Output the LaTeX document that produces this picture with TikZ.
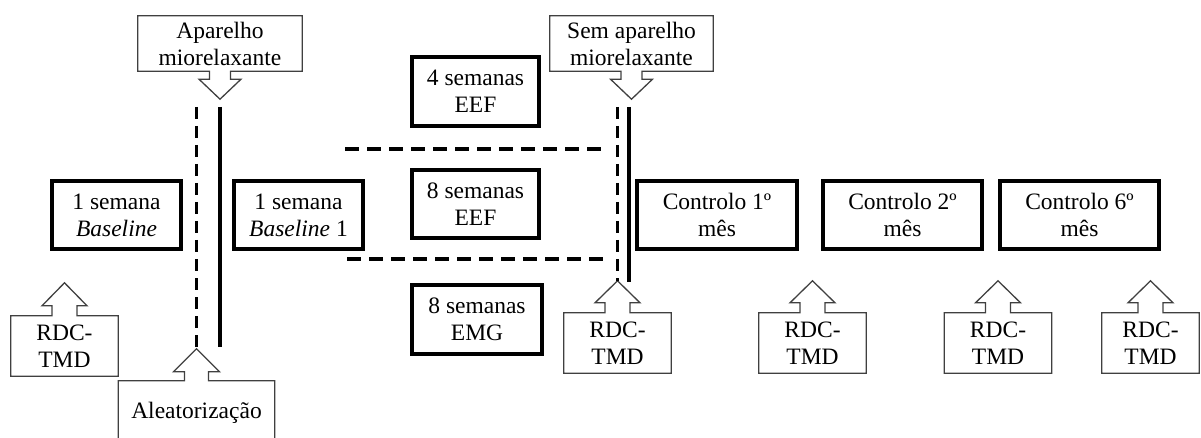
\documentclass[tikz,border=0pt]{standalone}
\usepackage{fontspec}
\setmainfont{Liberation Serif}
\usetikzlibrary{calc}
\tikzset{
  every node/.style={font=\fontsize{23.5}{27}\selectfont, align=center, inner sep=0pt},
  stagebox/.style={draw, line width=3.2pt, minimum height=68pt},
  calltext/.style={draw=none, minimum width=107pt, minimum height=60pt},
  callout/.style={draw=black!75, line width=1.3pt, line join=miter},
  solidsep/.style={line width=3.2pt},
  vdash/.style={line width=3.2pt, dash pattern=on 12pt off 7pt},
  hdash/.style={line width=3.2pt, dash pattern=on 14pt off 8pt},
}
% down-pointing callout: node, stem half, shoulder half, stem length, head length
\newcommand\callDown[5]{%
  \draw[callout] ($(#1.south)+(#2,0)$) -- (#1.south east) -- (#1.north east) -- (#1.north west)
    -- (#1.south west) -- ($(#1.south)+(-#2,0)$) -- ($(#1.south)+(-#2,#4)$)
    -- ($(#1.south)+(-#3,#4)$) -- ($(#1.south)+(0,{#4+#5})$) coordinate (#1-tip)
    -- ($(#1.south)+(#3,#4)$) -- ($(#1.south)+(#2,#4)$) -- cycle;}
% up-pointing callout
\newcommand\callUp[5]{%
  \draw[callout] ($(#1.north)+(#2,0)$) -- (#1.north east) -- (#1.south east) -- (#1.south west)
    -- (#1.north west) -- ($(#1.north)+(-#2,0)$) -- ($(#1.north)+(-#2,-#4)$)
    -- ($(#1.north)+(-#3,-#4)$) -- ($(#1.north)+(0,{-#4-#5})$) coordinate (#1-tip)
    -- ($(#1.north)+(#3,-#4)$) -- ($(#1.north)+(#2,-#4)$) -- cycle;}
\begin{document}
\begin{tikzpicture}[x=1pt,y=-1pt]
\useasboundingbox (0,0) rectangle (1201,438);

% stage boxes
\node[stagebox, minimum width=129pt] (b0) at (116.5,215) {1 semana\\\textit{Baseline}};
\node[stagebox, minimum width=129pt] (b1) at (298.5,215) {1 semana\\\textit{Baseline} 1};
\node[stagebox, minimum width=127pt, minimum height=69pt] (e4) at (475.5,91.5) {4 semanas\\EEF};
\node[stagebox, minimum width=127pt] (e8) at (475.5,204) {8 semanas\\EEF};
\node[stagebox, minimum width=130pt, minimum height=69pt] (m8) at (477,319.5) {8 semanas\\EMG};
\node[stagebox, minimum width=160pt] (c1) at (717,215) {Controlo 1º\\mês};
\node[stagebox, minimum width=159pt] (c2) at (902.5,215) {Controlo 2º\\mês};
\node[stagebox, minimum width=159pt] (c6) at (1079.5,215) {Controlo 6º\\mês};

% callouts (top)
\node[calltext, minimum width=164pt, minimum height=55pt] (ap) at (220,43.5) {Aparelho\\miorelaxante};
\callDown{ap}{10.5}{21}{8}{20}
\node[calltext, minimum width=163pt, minimum height=55pt] (sem) at (631.5,43.5) {Sem aparelho\\miorelaxante};
\callDown{sem}{10.5}{21}{8}{20}

% callouts (bottom)
\node[calltext] (rdc0) at (64.5,346) {RDC-\\TMD};
\callUp{rdc0}{12.5}{22.5}{10}{23}
\node[calltext] (rdc1) at (617.5,343) {RDC-\\TMD};
\callUp{rdc1}{12.5}{22.5}{10}{22}
\node[calltext] (rdc2) at (812.5,343) {RDC-\\TMD};
\callUp{rdc2}{12.5}{22.5}{10}{22}
\node[calltext] (rdc3) at (998,343) {RDC-\\TMD};
\callUp{rdc3}{12.5}{22.5}{10}{22}
\node[calltext, minimum width=97pt] (rdc4) at (1150.5,343) {RDC-\\TMD};
\callUp{rdc4}{12.5}{22.5}{10}{22}
\node[calltext, minimum width=156pt, minimum height=64pt] (al) at (196.5,413) {Aleatorização};
\callUp{al}{12}{23}{9}{23}

% separator lines
\coordinate (top) at (0,107);
\coordinate (lsolidbot) at (0,347);
\coordinate (rsolidtop) at (629,107);
\coordinate (rsolidbot) at (629,282);
\draw[vdash] (al-tip |- top) -- (al-tip);
\draw[solidsep] (ap-tip |- top) -- (ap-tip |- lsolidbot);
\draw[vdash] (rdc1-tip |- top) -- (rdc1-tip);
\draw[solidsep] (rsolidtop) -- (rsolidbot);

\coordinate (h1a) at (345,149);
\coordinate (h1b) at (605,149);
\coordinate (h2a) at (347,259);
\coordinate (h2b) at (607,259);
\draw[hdash] (h1a) -- (h1b);
\draw[hdash] (h2a) -- (h2b);
\end{tikzpicture}
\end{document}
